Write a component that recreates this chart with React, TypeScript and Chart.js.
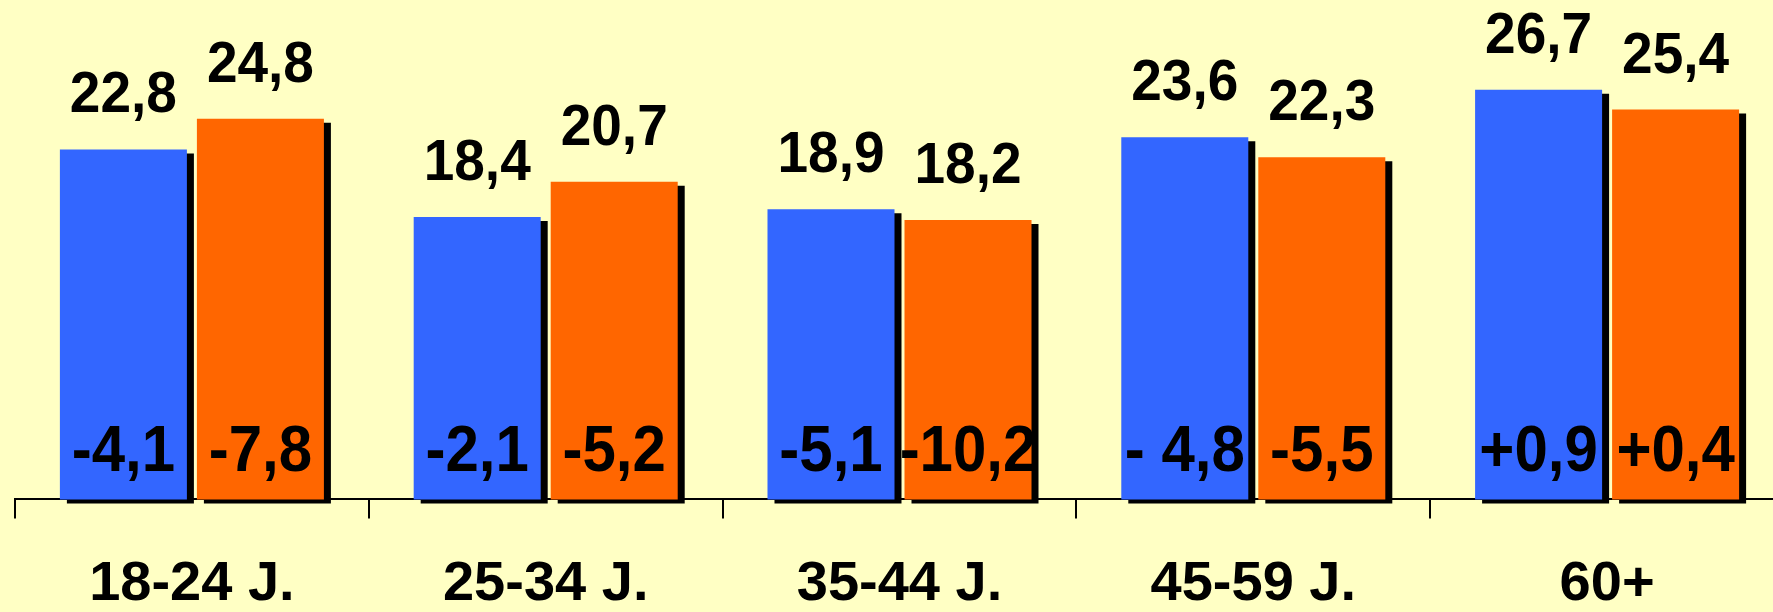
import React, { useEffect, useRef } from "react";
import { Chart, registerables } from "chart.js";

Chart.register(...registerables);

const categories = ["18-24 J.", "25-34 J.", "35-44 J.", "45-59 J.", "60+"];
const seriesBlue = [22.8, 18.4, 18.9, 23.6, 26.7];
const seriesOrange = [24.8, 20.7, 18.2, 22.3, 25.4];
const changeBlue = ["-4,1", "-2,1", "-5,1", "- 4,8", "+0,9"];
const changeOrange = ["-7,8", "-5,2", "-10,2", "-5,5", "+0,4"];

const BG = "#FFFFC4";
const FONT = "'Liberation Sans', Arial, sans-serif";

const fmt = (v: number) => v.toFixed(1).replace(".", ",");

const shadowPlugin = {
  id: "barShadow",
  beforeDatasetDraw(chart: any) {
    const ctx = chart.ctx;
    ctx.save();
    ctx.shadowColor = "#000000";
    ctx.shadowBlur = 0;
    ctx.shadowOffsetX = 7;
    ctx.shadowOffsetY = 4;
  },
  afterDatasetDraw(chart: any) {
    chart.ctx.restore();
  },
};

const labelPlugin = {
  id: "barLabels",
  afterDatasetsDraw(chart: any) {
    const ctx = chart.ctx;
    const changes = [changeBlue, changeOrange];
    const base = chart.scales.y.getPixelForValue(0);
    chart.data.datasets.forEach((ds: any, di: number) => {
      const meta = chart.getDatasetMeta(di);
      meta.data.forEach((el: any, i: number) => {
        ctx.save();
        ctx.fillStyle = "#000000";
        ctx.textAlign = "center";
        ctx.textBaseline = "alphabetic";
        ctx.translate(el.x, el.y - 37);
        ctx.scale(1, 1.05);
        ctx.font = `bold 55px ${FONT}`;
        ctx.fillText(fmt(ds.data[i]), 0, 0);
        ctx.restore();
        ctx.save();
        ctx.fillStyle = "#000000";
        ctx.textAlign = "center";
        ctx.textBaseline = "alphabetic";
        ctx.translate(el.x, base - 28);
        ctx.scale(1, 1.08);
        ctx.font = `bold 60px ${FONT}`;
        ctx.fillText(changes[di][i], 0, 0);
        ctx.restore();
      });
    });
  },
};

export default function App() {
  const ref = useRef<HTMLCanvasElement | null>(null);
  useEffect(() => {
    if (!ref.current) return;
    const chart = new Chart(ref.current, {
      type: "bar",
      data: {
        labels: categories,
        datasets: [
          {
            data: seriesBlue,
            backgroundColor: "#3366FF",
            borderWidth: 0,
            categoryPercentage: 0.7745,
            barPercentage: 0.927,
            clip: false,
          } as any,
          {
            data: seriesOrange,
            backgroundColor: "#FF6600",
            borderWidth: 0,
            categoryPercentage: 0.7745,
            barPercentage: 0.927,
            clip: false,
          } as any,
        ],
      },
      options: {
        animation: false,
        responsive: false,
        maintainAspectRatio: false,
        layout: { padding: { left: 15, right: 16, top: 39, bottom: 0 } },
        plugins: {
          legend: { display: false },
          tooltip: { enabled: false },
        },
        scales: {
          x: {
            grid: {
              display: true,
              drawOnChartArea: false,
              drawTicks: true,
              tickLength: 19,
              color: "#000000",
              lineWidth: 2,
              offset: true,
            },
            border: { display: true, color: "#000000", width: 2 },
            ticks: {
              color: "#000000",
              padding: 49,
              maxRotation: 0,
              font: { family: FONT, size: 56, weight: "bold", lineHeight: 0.6 },
            },
          },
          y: {
            display: false,
            min: 0,
            max: 30,
          },
        },
      },
      plugins: [shadowPlugin, labelPlugin],
    });
    return () => chart.destroy();
  }, []);
  return (
    <div
      style={{
        position: "absolute",
        left: 0,
        top: 0,
        width: 1773,
        height: 612,
        overflow: "hidden",
        background: BG,
      }}
    >
      <canvas ref={ref} width={1800} height={650} style={{ width: 1800, height: 650, display: "block" }} />
    </div>
  );
}
